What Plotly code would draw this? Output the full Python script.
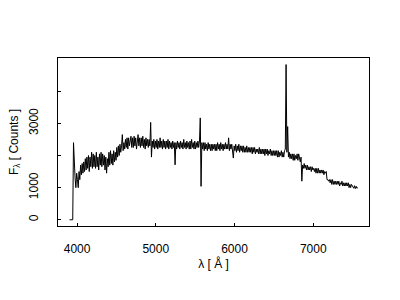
import plotly.graph_objects as go

# Spectrum sampling grid (Angstrom)
WAVE_START = 3905
WAVE_STEP = 10

# Flux in counts, one row per 100 A
flux = [
    0, 0, 0, 0, 0, 2400, 1550, 1300, 1000, 1450,
    1250, 1000, 1500, 1250, 1700, 1400, 1750, 1450, 1800, 1500,
    1900, 1550, 1950, 1600, 2000, 1500, 1950, 1650, 2100, 1600,
    2050, 1650, 2000, 1600, 2100, 1650, 1950, 1550, 2050, 1700,
    2100, 1650, 2050, 1700, 2000, 1550, 1950, 1450, 1900, 1650,
    2100, 1700, 2150, 1750, 2050, 1700, 2150, 1800, 2100, 1850,
    2250, 1950, 2300, 2000, 2350, 2100, 2300, 2650, 2150, 2400,
    2200, 2500, 2250, 2550, 2200, 2550, 2300, 2500, 2600, 2250,
    2550, 2250, 2600, 2300, 2550, 2200, 2500, 2650, 2300, 2550,
    2250, 2550, 2300, 2600, 2250, 2500, 2200, 2550, 2300, 2500,
    2250, 2500, 2300, 3030, 1950, 2450, 2250, 2500, 2200, 2450,
    2250, 2500, 2200, 2450, 2250, 2550, 2250, 2450, 2200, 2500,
    2250, 2450, 2200, 2450, 2250, 2500, 2200, 2450, 2250, 2400,
    2200, 2450, 2250, 2400, 1710, 2400, 2200, 2450, 2250, 2400,
    2200, 2450, 2250, 2400, 2200, 2500, 2250, 2400, 2200, 2450,
    2250, 2400, 2200, 2450, 2200, 2500, 2250, 2400, 2200, 2450,
    2200, 2400, 2250, 2450, 2250, 2450, 3170, 1040, 2400, 2200,
    2400, 2150, 2400, 2200, 2350, 2150, 2400, 2200, 2350, 2150,
    2350, 2150, 2350, 2200, 2350, 2150, 2350, 2150, 2400, 2200,
    2350, 2150, 2400, 2200, 2350, 2150, 2350, 2200, 2400, 2200,
    2350, 2200, 2550, 2150, 2350, 2200, 2350, 2150, 1920, 2300,
    2150, 2350, 2100, 2300, 2150, 2350, 2100, 2300, 2150, 2300,
    2100, 2300, 2100, 2250, 2100, 2300, 2100, 2250, 2100, 2250,
    2100, 2250, 2050, 2250, 2100, 2250, 2050, 2200, 2100, 2200,
    2050, 2250, 2050, 2200, 2050, 2200, 2050, 2200, 2000, 2200,
    2050, 2200, 2000, 2150, 2050, 2200, 2000, 2150, 2000, 2150,
    2000, 2150, 2000, 2150, 1950, 2150, 1950, 2100, 2000, 2150,
    1950, 2100, 1950, 2150, 2200, 4830, 2100, 2900, 1950, 2100,
    1900, 2050, 1900, 2050, 1850, 2050, 1850, 2000, 1900, 2050,
    1850, 2050, 1850, 1800, 1950, 1200, 1700, 1600, 1750, 1600,
    1700, 1550, 1700, 1550, 1650, 1550, 1650, 1500, 1650, 1550,
    1600, 1500, 1600, 1450, 1600, 1450, 1600, 1450, 1550, 1450,
    1550, 1450, 1550, 1400, 1500, 1450, 1500, 1250, 1250, 1200,
    1250, 1150, 1250, 1100, 1250, 1100, 1200, 1100, 1200, 1100,
    1200, 1100, 1200, 1050, 1150, 1100, 1200, 1050, 1150, 1050,
    1150, 1050, 1150, 1050, 1150, 1000, 1100, 1000, 1100, 1050,
    1050, 980, 1060, 970, 1040, 980, 1000,
]
wavelength = [WAVE_START + WAVE_STEP * i for i in range(len(flux))]

x_ticks = [4000, 5000, 6000, 7000]
x_labels = ["4000", "5000", "6000", "7000"]
y_ticks = [0, 1000, 2000, 3000, 4000]
y_labels = ["0", "1000", "", "3000", ""]

fig = go.Figure()
fig.add_trace(go.Scatter(
    x=wavelength, y=flux, mode="lines",
    line=dict(color="black", width=1),
    showlegend=False, hoverinfo="skip",
))

font = dict(family="Liberation Sans, Arial, sans-serif", size=12, color="black")
fig.update_layout(
    width=400, height=300,
    margin=dict(l=58, r=31, t=58, b=74),
    paper_bgcolor="white", plot_bgcolor="white",
    font=font,
)
fig.update_xaxes(
    range=[3758, 7708], tickvals=x_ticks, ticktext=x_labels,
    ticks="inside", ticklen=3, tickcolor="black",
    showline=True, mirror=True, linecolor="black", linewidth=1,
    showgrid=False, zeroline=False, ticklabelstandoff=12,
    title=dict(text="λ [ Å ]", standoff=4, font=font),
)
fig.update_yaxes(
    range=[-194, 5034], tickvals=y_ticks, ticktext=y_labels,
    ticks="inside", ticklen=3, tickcolor="black", tickangle=-90,
    showline=True, mirror=True, linecolor="black", linewidth=1,
    showgrid=False, zeroline=False, ticklabelstandoff=14,
    title=dict(text="F<sub>λ</sub> [ Counts ]", standoff=6, font=font),
)

fig.write_html("out.html")
